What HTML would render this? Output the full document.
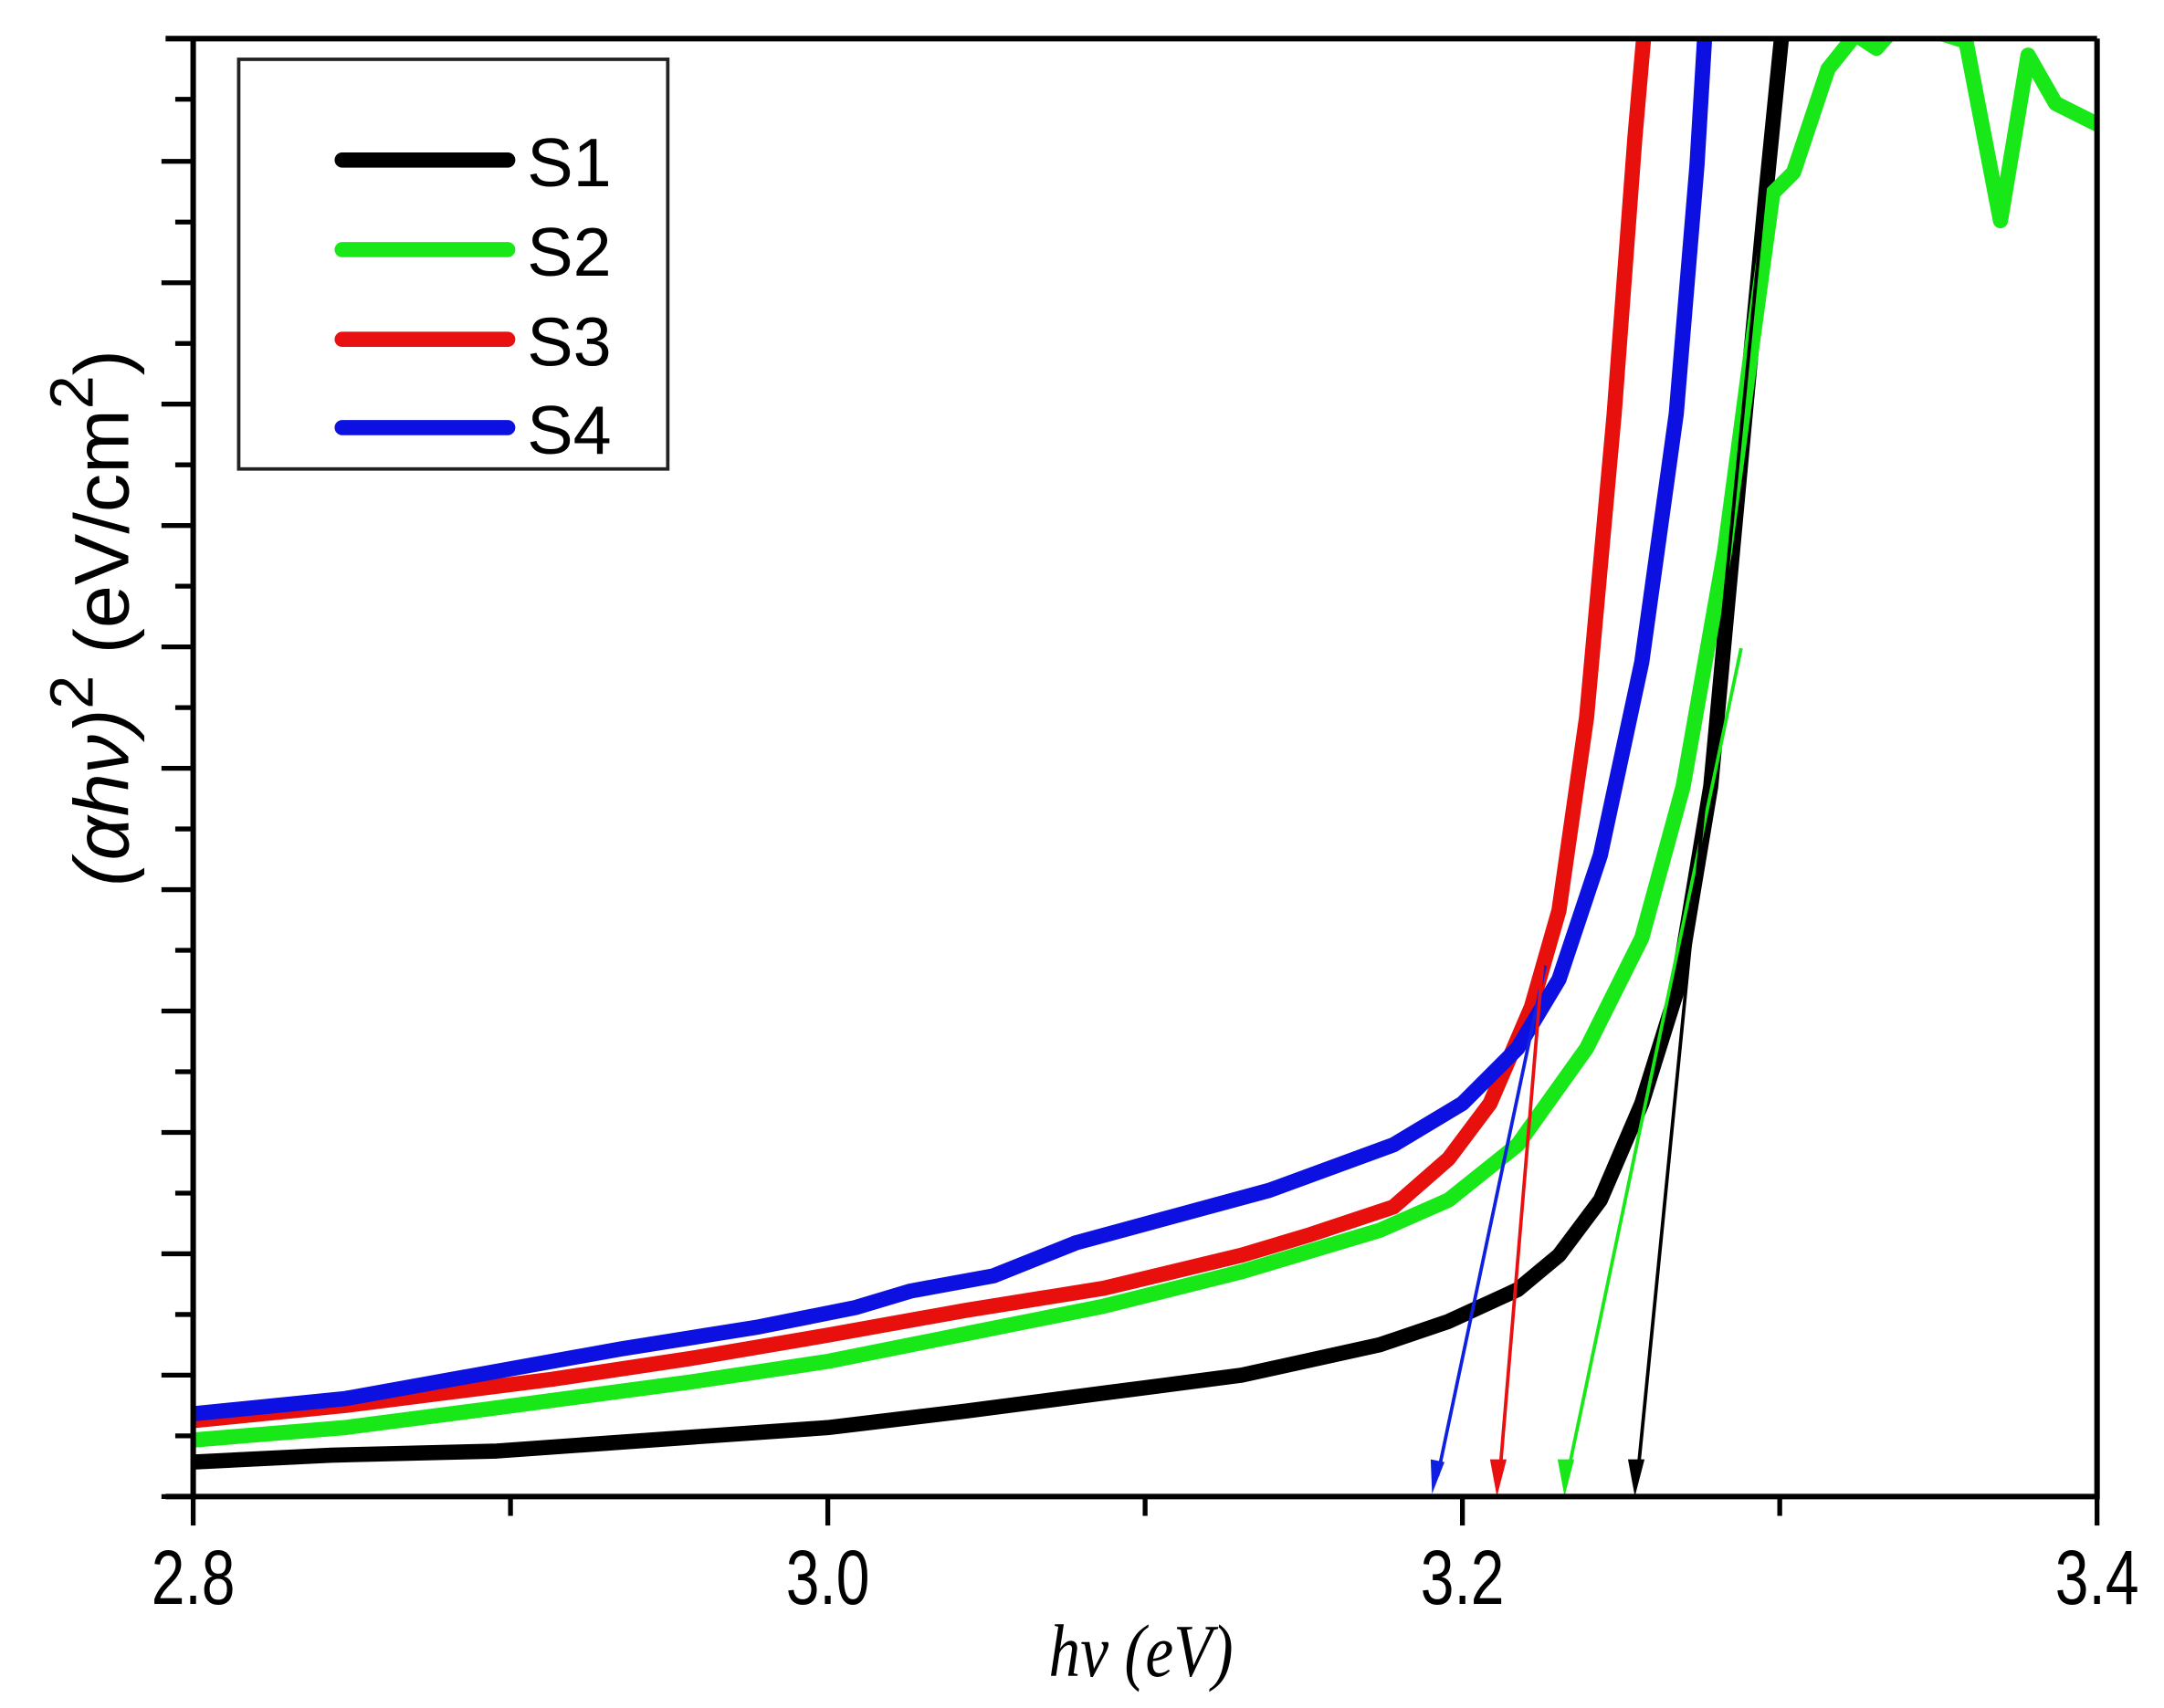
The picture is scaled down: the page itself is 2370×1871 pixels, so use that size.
<!DOCTYPE html>
<html><head><meta charset="utf-8"><style>html,body{margin:0;padding:0;background:#fff}svg{display:block}</style></head>
<body>
<svg width="2370" height="1871" viewBox="0 0 1568.5 1238.3" xmlns="http://www.w3.org/2000/svg" font-family="Liberation Sans, Arial, sans-serif">
<rect width="1568.5" height="1238.3" fill="#fff"/>
<defs><clipPath id="c"><rect x="140" y="28" width="1380" height="1057"/></clipPath></defs>
<g clip-path="url(#c)" fill="none" stroke-width="11" stroke-linejoin="round" stroke-linecap="round">
<polyline stroke="#000" points="140,1060 240,1055 360,1052 500,1042 600,1035 700,1023 800,1010 900,997 1000,975 1050,958 1100,935 1130,910 1160,870 1190,800 1215,720 1240,570 1265,300 1280,140 1292,20"/>
<polyline stroke="#18e818" points="140,1044 250,1035 350,1022 500,1002 600,987 700,967 800,947 900,922 1000,892 1050,870 1100,830 1150,760 1190,680 1220,570 1250,400 1270,250 1285,140 1300,125 1325,50 1345,25 1360,35 1378,15 1425,30 1450,160 1470,40 1490,75 1520,90"/>
<polyline stroke="#e8100c" points="140,1030 250,1019 400,1000 500,985 600,968 700,950 800,934 900,910 950,895 1010,875 1050,840 1080,800 1110,730 1130,660 1150,520 1170,300 1185,100 1192,20"/>
<polyline stroke="#0c10e0" points="140,1025 250,1014 350,996 450,978 550,962 620,948 660,936 720,925 780,901 850,882 920,863 1010,830 1060,800 1100,760 1130,710 1160,620 1190,480 1215,300 1230,120 1236,20"/>
</g>
<g stroke-width="2.5" fill="none">
<line x1="1120" y1="700" x2="1042" y2="1070" stroke="#1020e0"/>
<line x1="1118" y1="700" x2="1087" y2="1070" stroke="#e81010"/>
<line x1="1262" y1="470" x2="1136" y2="1070" stroke="#18e818"/>
<line x1="1290" y1="30" x2="1187" y2="1070" stroke="#000"/>
</g>
<polygon points="1038,1083 1037,1058 1047,1060" fill="#1020e0"/>
<polygon points="1085,1085 1080,1058 1092,1058" fill="#e81010"/>
<polygon points="1134,1085 1129,1058 1141,1058" fill="#18e818"/>
<polygon points="1185,1085 1180,1058 1192,1058" fill="#000"/>
<g stroke="#000" stroke-width="4">
<line x1="140" y1="28" x2="140" y2="1087"/>
<line x1="1520" y1="28" x2="1520" y2="1087"/>
<line x1="120" y1="28" x2="1520" y2="28"/>
<line x1="120" y1="1085" x2="1520" y2="1085"/>
</g>
<g stroke="#000" stroke-width="3.5">
<line x1="140" y1="1085" x2="140" y2="1106"/><line x1="600" y1="1085" x2="600" y2="1106"/><line x1="1060" y1="1085" x2="1060" y2="1106"/><line x1="1520" y1="1085" x2="1520" y2="1106"/>
<line x1="370" y1="1085" x2="370" y2="1099"/><line x1="830" y1="1085" x2="830" y2="1099"/><line x1="1290" y1="1085" x2="1290" y2="1099"/>
<line x1="117" y1="1085" x2="140" y2="1085"/><line x1="127" y1="1041" x2="140" y2="1041"/><line x1="117" y1="997" x2="140" y2="997"/><line x1="127" y1="953" x2="140" y2="953"/><line x1="117" y1="909" x2="140" y2="909"/><line x1="127" y1="865" x2="140" y2="865"/><line x1="117" y1="821" x2="140" y2="821"/><line x1="127" y1="777" x2="140" y2="777"/><line x1="117" y1="733" x2="140" y2="733"/><line x1="127" y1="689" x2="140" y2="689"/><line x1="117" y1="645" x2="140" y2="645"/><line x1="127" y1="601" x2="140" y2="601"/><line x1="117" y1="557" x2="140" y2="557"/><line x1="127" y1="513" x2="140" y2="513"/><line x1="117" y1="469" x2="140" y2="469"/><line x1="127" y1="425" x2="140" y2="425"/><line x1="117" y1="381" x2="140" y2="381"/><line x1="127" y1="337" x2="140" y2="337"/><line x1="117" y1="293" x2="140" y2="293"/><line x1="127" y1="249" x2="140" y2="249"/><line x1="117" y1="205" x2="140" y2="205"/><line x1="127" y1="161" x2="140" y2="161"/><line x1="117" y1="117" x2="140" y2="117"/><line x1="127" y1="72" x2="140" y2="72"/>
</g>
<g font-size="56" text-anchor="middle" fill="#000">
<text transform="translate(140,1163) scale(0.78,1)">2.8</text><text transform="translate(600,1163) scale(0.78,1)">3.0</text><text transform="translate(1060,1163) scale(0.78,1)">3.2</text><text transform="translate(1520,1163) scale(0.78,1)">3.4</text>
</g>
<text transform="translate(827,1215) scale(0.85,1)" font-family="Liberation Serif, serif" font-style="italic" font-size="54" text-anchor="middle">hν (eV)</text>
<text transform="translate(93,448) rotate(-90)" font-size="56" text-anchor="middle"><tspan font-style="italic">(αhν)</tspan><tspan dy="-26" font-size="44">2</tspan><tspan dy="26"> (eV/cm</tspan><tspan dy="-26" font-size="44">2</tspan><tspan dy="26">)</tspan></text>
<rect x="173" y="43" width="311" height="297" fill="#fff" stroke="#222" stroke-width="2.5"/>
<g stroke-width="11" stroke-linecap="round">
<line x1="248" y1="116" x2="368" y2="116" stroke="#000"/>
<line x1="248" y1="181" x2="368" y2="181" stroke="#18e818"/>
<line x1="248" y1="246" x2="368" y2="246" stroke="#e81010"/>
<line x1="248" y1="310" x2="368" y2="310" stroke="#0c10e0"/>
</g>
<g font-size="50" fill="#000">
<text x="382" y="135">S1</text><text x="382" y="200">S2</text><text x="382" y="265">S3</text><text x="382" y="329">S4</text>
</g>
</svg>
</body></html>
